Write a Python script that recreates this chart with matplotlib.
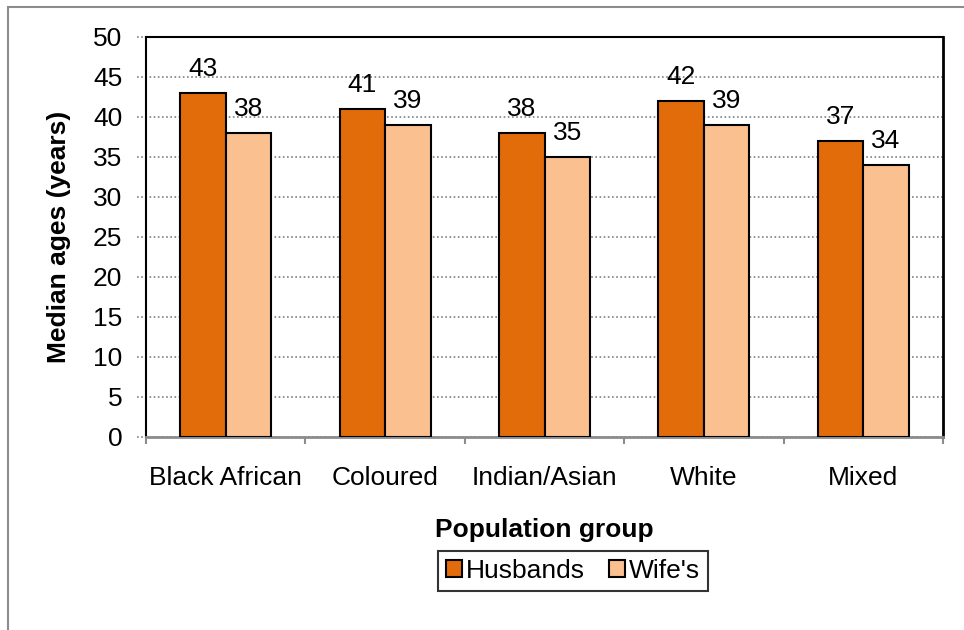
import numpy as np
import matplotlib.pyplot as plt
from matplotlib.patches import Rectangle

plt.rcParams['font.family'] = ['Liberation Sans', 'DejaVu Sans']

# === Data ===
groups = ['Black African', 'Coloured', 'Indian/Asian', 'White', 'Mixed']
husbands = [43, 41, 38, 42, 37]
wives = [38, 39, 35, 39, 34]
series_names = ['Husbands', "Wife's"]

HUSBAND_COLOR = '#E36C0A'
WIFE_COLOR = '#FAC090'
FS = 19

W, H = 964, 630
fig = plt.figure(figsize=(W / 100, H / 100), dpi=100)

# outer frame (left and top edges only visible)
fig.add_artist(Rectangle((7.5 / W, -0.1), 1.2, 1 - 7.5 / H + 0.1, transform=fig.transFigure,
                         fill=False, edgecolor='#8c8c8c', linewidth=1.5))

left, right, top, bottom = 146, 943, 37, 437
ax = fig.add_axes([left / W, 1 - bottom / H, (right - left) / W, (bottom - top) / H])

x = np.arange(len(groups))
bw = 0.285
b1 = ax.bar(x - bw / 2, husbands, bw, color=HUSBAND_COLOR, edgecolor='black', linewidth=1.5,
            label=series_names[0], zorder=3)
b2 = ax.bar(x + bw / 2, wives, bw, color=WIFE_COLOR, edgecolor='black', linewidth=1.5,
            label=series_names[1], zorder=3)

for bars, vals in ((b1, husbands), (b2, wives)):
    for rect, v in zip(bars, vals):
        ax.annotate(str(v), (rect.get_x() + rect.get_width() / 2, v), xytext=(0, 12),
                    textcoords='offset points', ha='center', va='baseline', fontsize=FS)

ax.set_xlim(-0.5, len(groups) - 0.5)
ax.set_ylim(0, 50)
ax.set_yticks(np.arange(0, 51, 5))

# dotted gridlines running slightly past the left axis
for yv in np.arange(0, 51, 5):
    ax.axhline(yv, xmin=-0.011, xmax=1, color='#808080', linestyle=(0, (1, 1.5)),
               linewidth=1.2, clip_on=False, zorder=1)

ax.tick_params(axis='y', length=0, labelsize=FS, pad=17)
ax.set_xticks(x)
ax.set_xticklabels(groups, fontsize=FS)
ax.tick_params(axis='x', length=0, pad=21)
# boundary ticks on the category axis
ax.set_xticks(np.arange(-0.5, len(groups)), minor=True)
ax.tick_params(axis='x', which='minor', length=5, width=1.5, color='#8c8c8c', direction='out')

ax.spines['bottom'].set_color('#8c8c8c')
ax.spines['bottom'].set_linewidth(2)
ax.spines['right'].set_linewidth(2)
ax.spines['top'].set_linestyle((0, (1, 1)))
ax.spines['top'].set_linewidth(1.5)
ax.spines['left'].set_linestyle((0, (1, 1)))
ax.spines['left'].set_linewidth(1.5)

ax.set_ylabel('Median ages (years)', fontsize=FS, fontweight='bold')
ax.yaxis.set_label_coords((71 - left) / (right - left), 0.5)
fig.text((left + right) / 2 / W, 1 - 537 / H, 'Population group', ha='center', va='baseline',
         fontsize=FS, fontweight='bold')

leg = fig.legend(handles=[b1, b2], loc='center', bbox_to_anchor=(573 / W, 1 - 571 / H),
                 ncol=2, fontsize=FS, frameon=True, fancybox=False, handlelength=0.6,
                 handleheight=0.6, handletextpad=0.15, columnspacing=0.9, borderpad=0.3)
leg.get_frame().set_edgecolor('black')
leg.get_frame().set_linewidth(1.5)

fig.savefig('out.png', dpi=100)
